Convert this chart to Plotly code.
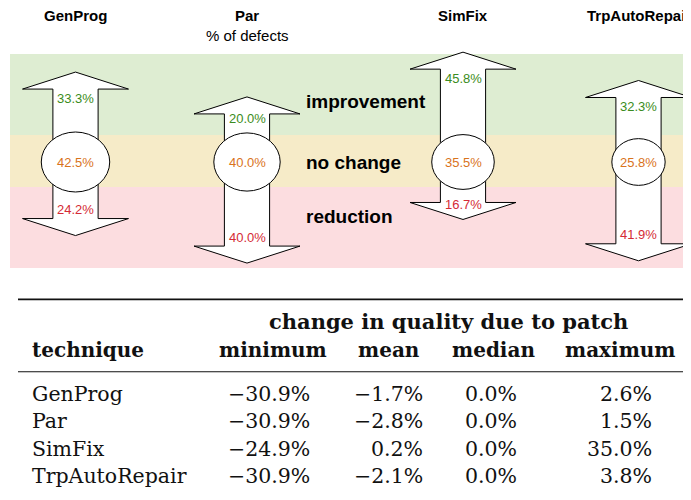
import math
import plotly.graph_objects as go

# ---------------- data ----------------
techniques = ["GenProg", "Par", "SimFix", "TrpAutoRepair"]
improvement_pct = [33.3, 20.0, 45.8, 32.3]
no_change_pct = [42.5, 40.0, 35.5, 25.8]
reduction_pct = [24.2, 40.0, 16.7, 41.9]
outcome_labels = ["improvement", "no change", "reduction"]
subtitle = "% of defects"

table_group_header = "change in quality due to patch"
table_first_header = "technique"
stat_headers = ["minimum", "mean", "median", "maximum"]
quality_min = [-30.9, -30.9, -24.9, -30.9]
quality_mean = [-1.7, -2.8, 0.2, -2.1]
quality_median = [0.0, 0.0, 0.0, 0.0]
quality_max = [2.6, 1.5, 35.0, 3.8]

# ---------------- layout / style ----------------
W, H = 691, 500
PAGE_OFFSET = 8                            # default body margin of the html page
col_x = [75.5, 247, 463, 638.5]          # arrow column centres
center_y = 162                             # centre line of the arrows
PX_PER_PCT = 1.8                           # arrow length scale
RX_K, RY_K = 5.25, 4.6                     # ellipse size scale (sqrt of %)
HEAD_LEN, HEAD_HALF, SHAFT_HALF = 17, 53, 22.6
band_x = (10, 700)
band_edges = [54, 135, 187, 268]
band_colors = ["#deedd2", "#f6ebc8", "#fcdde0"]
band_label_x = 304
band_label_y = [101, 162, 216]
GREEN, ORANGE, RED = "#3b8c20", "#d9731c", "#d52b36"
SANS = "Liberation Sans, Arial, sans-serif"
SERIF = "DejaVu Serif, serif"

# table geometry
rule_top_y, rule_mid_y = 299.3, 371.7
rule_x0 = 18
group_header_x, group_header_y = 448, 321
header_y = 350
tech_x = 30
stat_center_x = [272.7, 389.2, 493, 620.8]
stat_right_x = [312, 424.5, 519, 653.5]
row_y = [393.5, 421, 448.5, 475.5]

fig = go.Figure()
shapes = []
annotations = []

# background bands
for i, col in enumerate(band_colors):
    shapes.append(dict(type="rect", xref="x", yref="y", layer="below",
                       x0=band_x[0], x1=band_x[1],
                       y0=band_edges[i], y1=band_edges[i + 1],
                       fillcolor=col, line=dict(width=0)))
for lab, ly in zip(outcome_labels, band_label_y):
    annotations.append(dict(x=band_label_x, y=ly, xref="x", yref="y",
                            text="<b>%s</b>" % lab, showarrow=False,
                            xanchor="left", yanchor="middle",
                            font=dict(family=SANS, size=19, color="#000")))

# arrows + ellipses
for name, cx, up, mid, down in zip(techniques, col_x, improvement_pct,
                                   no_change_pct, reduction_pct):
    rx = RX_K * math.sqrt(mid)
    ry = RY_K * math.sqrt(mid)
    ell_top = center_y - ry
    ell_bot = center_y + ry
    tip_top = ell_top - PX_PER_PCT * up
    tip_bot = ell_bot + PX_PER_PCT * down
    base_top = tip_top + HEAD_LEN
    base_bot = tip_bot - HEAD_LEN
    xs = [cx, cx + HEAD_HALF, cx + SHAFT_HALF, cx + SHAFT_HALF, cx + HEAD_HALF,
          cx, cx - HEAD_HALF, cx - SHAFT_HALF, cx - SHAFT_HALF, cx - HEAD_HALF, cx]
    ys = [tip_top, base_top, base_top, base_bot, base_bot,
          tip_bot, base_bot, base_bot, base_top, base_top, tip_top]
    fig.add_trace(go.Scatter(x=xs, y=ys, mode="lines", fill="toself",
                             fillcolor="white",
                             line=dict(color="black", width=1),
                             hoverinfo="skip", showlegend=False))
    shapes.append(dict(type="circle", xref="x", yref="y", layer="above",
                       x0=cx - rx, x1=cx + rx, y0=ell_top, y1=ell_bot,
                       fillcolor="white", line=dict(color="black", width=1)))
    up_y = min(base_top + 9, ell_top - 14)
    down_y = max(base_bot - 9, ell_bot + 15)
    for txt, yy, colr in [("%.1f%%" % up, up_y, GREEN),
                          ("%.1f%%" % mid, center_y, ORANGE),
                          ("%.1f%%" % down, down_y, RED)]:
        annotations.append(dict(x=cx, y=yy, xref="x", yref="y", text=txt,
                                showarrow=False, xanchor="center",
                                yanchor="middle",
                                font=dict(family=SANS, size=13, color=colr)))
    annotations.append(dict(x=cx, y=15, xref="x", yref="y",
                            text="<b>%s</b>" % name, showarrow=False,
                            xanchor="center", yanchor="middle",
                            font=dict(family=SANS, size=15, color="#000")))

annotations.append(dict(x=col_x[1], y=35.5, xref="x", yref="y", text=subtitle,
                        showarrow=False, xanchor="center", yanchor="middle",
                        font=dict(family=SANS, size=15, color="#000")))

# ---------------- table ----------------
shapes.append(dict(type="line", xref="x", yref="y", x0=rule_x0, x1=W + 10,
                   y0=rule_top_y, y1=rule_top_y,
                   line=dict(color="#111", width=1.7)))
shapes.append(dict(type="line", xref="x", yref="y", x0=rule_x0, x1=W + 10,
                   y0=rule_mid_y, y1=rule_mid_y,
                   line=dict(color="#111", width=1.1)))

annotations.append(dict(x=group_header_x, y=group_header_y, xref="x", yref="y",
                        text="<b>%s</b>" % table_group_header, showarrow=False,
                        xanchor="center", yanchor="middle",
                        font=dict(family=SERIF, size=21, color="#111")))
annotations.append(dict(x=tech_x, y=header_y, xref="x", yref="y",
                        text="<b>%s</b>" % table_first_header, showarrow=False,
                        xanchor="left", yanchor="middle",
                        font=dict(family=SERIF, size=20, color="#111")))
for hdr, hx in zip(stat_headers, stat_center_x):
    annotations.append(dict(x=hx, y=header_y, xref="x", yref="y",
                            text="<b>%s</b>" % hdr, showarrow=False,
                            xanchor="center", yanchor="middle",
                            font=dict(family=SERIF, size=20, color="#111")))


def fmt(v):
    s = "%.1f%%" % abs(v)
    return ("\u2212" + s) if v < 0 else s


columns = [quality_min, quality_mean, quality_median, quality_max]
for r, (name, ry_) in enumerate(zip(techniques, row_y)):
    annotations.append(dict(x=tech_x, y=ry_, xref="x", yref="y", text=name,
                            showarrow=False, xanchor="left", yanchor="middle",
                            font=dict(family=SERIF, size=20.5, color="#111")))
    for col, rx_ in zip(columns, stat_right_x):
        annotations.append(dict(x=rx_, y=ry_, xref="x", yref="y",
                                text=fmt(col[r]), showarrow=False,
                                xanchor="right", yanchor="middle",
                                font=dict(family=SERIF, size=20.5, color="#111")))

# axis ranges are expressed in page pixels (the page adds an 8px body margin)
fig.update_layout(
    width=W, height=H, autosize=False,
    margin=dict(l=0, r=0, t=0, b=0, pad=0),
    paper_bgcolor="white", plot_bgcolor="white",
    xaxis=dict(range=[PAGE_OFFSET, W + PAGE_OFFSET], visible=False,
               fixedrange=True, domain=[0, 1]),
    yaxis=dict(range=[H + PAGE_OFFSET, PAGE_OFFSET], visible=False,
               fixedrange=True, domain=[0, 1]),
    shapes=shapes, annotations=annotations, showlegend=False,
)

fig.write_html("out.html")
